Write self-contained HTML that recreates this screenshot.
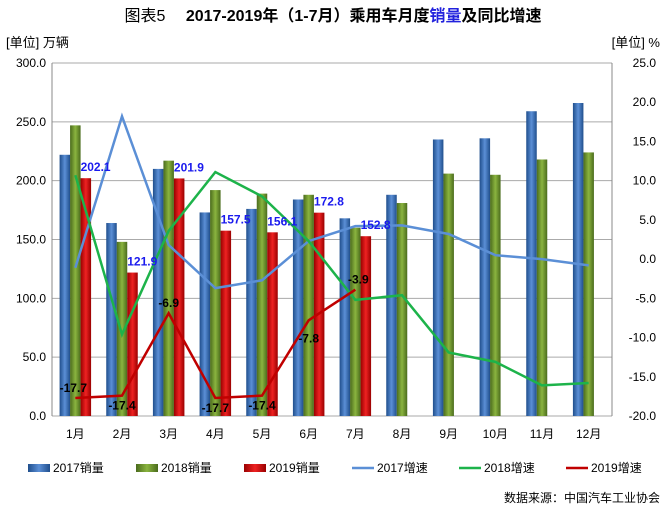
<!DOCTYPE html>
<html><head><meta charset="utf-8"><style>
body{margin:0;background:#fff;font-family:"Liberation Sans","Noto Sans CJK SC",sans-serif}
svg text{font-family:"Liberation Sans","Noto Sans CJK SC",sans-serif}
</style></head><body>
<svg id="chart" width="666" height="511" xmlns="http://www.w3.org/2000/svg">
<defs>
<linearGradient id="gb" x1="0" x2="1"><stop offset="0" stop-color="#1f4e8c"/><stop offset=".5" stop-color="#5b8fd6"/><stop offset="1" stop-color="#1f4e8c"/></linearGradient>
<linearGradient id="gg" x1="0" x2="1"><stop offset="0" stop-color="#4a6b1c"/><stop offset=".5" stop-color="#8ab43f"/><stop offset="1" stop-color="#4a6b1c"/></linearGradient>
<linearGradient id="gr" x1="0" x2="1"><stop offset="0" stop-color="#9a0000"/><stop offset=".5" stop-color="#ee2222"/><stop offset="1" stop-color="#9a0000"/></linearGradient>
</defs>
<text x="333" y="21" text-anchor="middle" font-size="16" font-weight="bold"><tspan font-weight="normal">图表5</tspan>　 2017-2019年（1-7月）乘用车月度<tspan fill="#2222dd">销量</tspan>及同比增速</text>
<text x="6" y="47" font-size="13">[单位] 万辆</text>
<text x="660" y="47" font-size="13" text-anchor="end">[单位] %</text>
<g id="grid"></g><g id="bars"></g><g id="lines"></g><g id="labels"></g>
<g id="legend"></g>
<text x="660" y="502" font-size="12" text-anchor="end">数据来源：中国汽车工业协会</text>
</svg>
<script>
const months=["1月","2月","3月","4月","5月","6月","7月","8月","9月","10月","11月","12月"];
const sales2017=[222,164,210,173,176,184,168,188,235,236,259,266];
const sales2018=[247,148,217,192,189,188,160,181,206,205,218,224];
const sales2019=[202.1,121.9,201.9,157.5,156.1,172.8,152.8];
const growth2017=[-1.1,18.2,1.8,-3.7,-2.7,2.3,4.2,4.3,3.2,0.5,0,-0.8];
const growth2018=[10.7,-9.6,3.6,11.1,8,2.3,-5.2,-4.6,-11.9,-13.1,-16.1,-15.8];
const growth2019=[-17.7,-17.4,-6.9,-17.7,-17.4,-7.8,-3.9];
const leftTicks=[0,50,100,150,200,250,300];
const rightTicks=[-20,-15,-10,-5,0,5,10,15,20,25];
const NS="http://www.w3.org/2000/svg";
const X0=52,X1=612,Y0=416,Y1=63;
const yL=v=>Y0-(v/300)*(Y0-Y1);
const yR=v=>Y0-((v+20)/45)*(Y0-Y1);
const cw=(X1-X0)/12;
const xc=i=>X0+cw*(i+0.5);
function mk(tag,attrs,parent,txt){const e=document.createElementNS(NS,tag);for(const k in attrs)e.setAttribute(k,attrs[k]);if(txt!==undefined)e.textContent=txt;document.getElementById(parent).appendChild(e);return e;}
leftTicks.forEach(v=>{
 const l=mk('line',{x1:X0,x2:X1,y1:yL(v),y2:yL(v),stroke:'#aaa','stroke-width':1},'grid');
 
 
 const t=mk('text',{x:X0-6,y:yL(v)+4,'font-size':12,'text-anchor':'end'},'grid',v.toFixed(1));
 
 
});
rightTicks.forEach(v=>{
 const t=mk('text',{x:X1+44,y:yR(v)+4,'font-size':12,'text-anchor':'end'},'grid',v.toFixed(1));
 
 
});
let a=mk('line',{x1:X0,x2:X0,y1:Y1,y2:Y0,stroke:'#888'},'grid');

a=mk('line',{x1:X1,x2:X1,y1:Y1,y2:Y0,stroke:'#888'},'grid');

months.forEach((m,i)=>{
 const t=mk('text',{x:xc(i),y:Y0+22,'font-size':12,'text-anchor':'middle'},'grid',m);
 
 
});
const bw=10.5;
function bars(arr,off,fill,name){arr.forEach((v,i)=>{
 const r=mk('rect',{x:xc(i)+off-bw/2,y:yL(v),width:bw,height:Y0-yL(v),fill:fill},'bars');
 
 
});}
bars(sales2017,-bw,'url(#gb)','bar-2017');
bars(sales2018,0,'url(#gg)','bar-2018');
bars(sales2019,bw,'url(#gr)','bar-2019');
function line(arr,color,name){
 const p=mk('polyline',{points:arr.map((v,i)=>xc(i)+','+yR(v)).join(' '),fill:'none',stroke:color,'stroke-width':2.5},'lines');
 
 
}
line(growth2017,'#5b8fd6','line-2017-growth');
line(growth2018,'#1db34a','line-2018-growth');
line(growth2019,'#c00000','line-2019-growth');
sales2019.forEach((v,i)=>{
 const t=mk('text',{x:xc(i)+bw*0.5,y:yL(v)-7,'font-size':12,'font-weight':'bold',fill:'#1a1aee','text-anchor':'start'},'labels',v.toFixed(1));
 
 
});
growth2019.forEach((v,i)=>{
 const below=(i===1||i===3||i===4);
 const dy=(i===5)?22:(below?14:-6);
 const t=mk('text',{x:xc(i)+(i===0?-2:i===6?3:0),y:yR(v)+dy,'font-size':12,'font-weight':'bold',fill:'#000','text-anchor':'middle'},'labels',v.toFixed(1));
 
 
});
const legend=[["2017销量","url(#gb)",0],["2018销量","url(#gg)",0],["2019销量","url(#gr)",0],["2017增速","#5b8fd6",1],["2018增速","#1db34a",1],["2019增速","#c00000",1]];
const lx=[28,136,244,352,459,566];
legend.forEach((L,i)=>{
 const x=lx[i],y=468;
 let s;
 if(L[2]){s=mk('line',{x1:x,x2:x+22,y1:y,y2:y,stroke:L[1],'stroke-width':2.5},'legend');}
 else{s=mk('rect',{x:x,y:y-4,width:22,height:8,fill:L[1]},'legend');}
 
 
 const t=mk('text',{x:x+25,y:y+4,'font-size':12},'legend',L[0]);
 
 
});
</script>
</body></html>
